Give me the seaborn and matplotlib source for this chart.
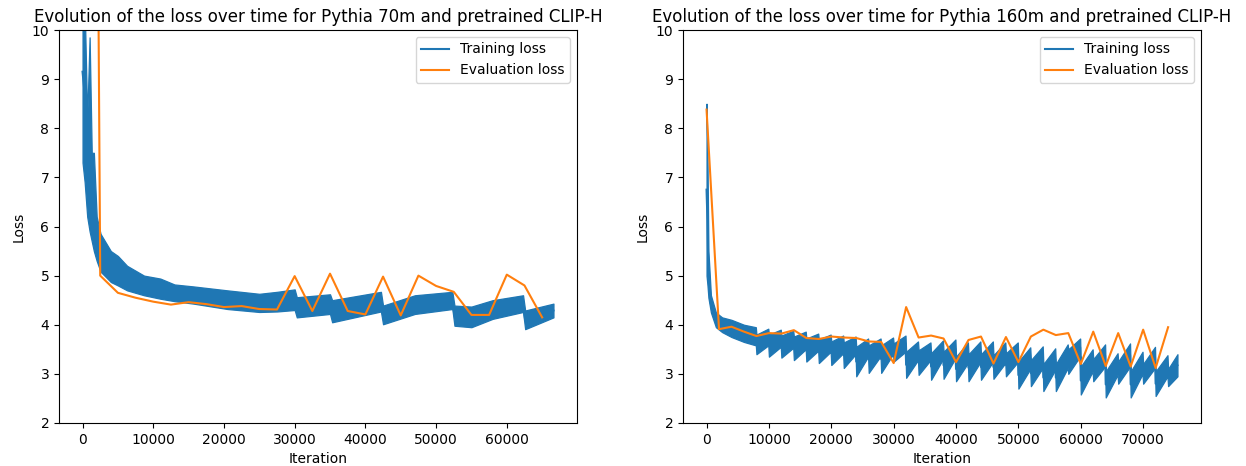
import matplotlib
matplotlib.use('Agg')
import matplotlib.pyplot as plt
import seaborn as sns
import numpy as np
import pandas as pd

# Pythia 70m - training loss band (lower / upper envelope)
train70_iter = [0, 300, 660, 1000, 1300, 1600, 2000, 2550, 4000, 5000, 6300, 8700,
                11000, 13000, 15700, 20500, 25000, 27500, 30000, 30300, 35000, 35300,
                42200, 42500, 47000, 52300, 52600, 55000, 58000, 62300, 62600, 66600]
train70_low = [7.3, 6.9, 6.2, 5.9, 5.7, 5.5, 5.3, 5.08, 4.87, 4.8, 4.7, 4.6,
               4.53, 4.48, 4.43, 4.32, 4.26, 4.27, 4.30, 4.15, 4.22, 4.05,
               4.27, 4.01, 4.22, 4.32, 3.98, 3.95, 4.12, 4.26, 3.91, 4.15]
train70_high = [11.0, 10.5, 8.2, 9.85, 7.5, 7.5, 6.2, 5.85, 5.5, 5.4, 5.2, 5.0,
                4.94, 4.82, 4.78, 4.70, 4.63, 4.67, 4.72, 4.56, 4.62, 4.50,
                4.67, 4.39, 4.60, 4.67, 4.39, 4.37, 4.50, 4.60, 4.29, 4.43]

# Pythia 70m - evaluation loss
eval70_iter = [0, 2500, 5000, 7500, 10000, 12500, 15000, 17500, 20000, 22500, 25000,
               27500, 30000, 32500, 35000, 37500, 40000, 42500, 45000, 47500, 50000,
               52500, 55000, 57500, 60000, 62500, 65000]
eval70_loss = [60.0, 5.0, 4.65, 4.55, 4.47, 4.41, 4.46, 4.42, 4.36, 4.38, 4.32,
               4.31, 4.99, 4.28, 5.04, 4.28, 4.21, 4.98, 4.19, 5.0, 4.79,
               4.67, 4.20, 4.20, 5.02, 4.80, 4.15]

# Pythia 160m - training loss, warm-up part
train160_iter = [0, 150, 300, 700, 1500, 2500, 4000, 6000, 7900]
train160_low = [5.0, 4.8, 4.55, 4.25, 3.95, 3.85, 3.75, 3.65, 3.58]
train160_high = [8.5, 7.4, 5.5, 4.6, 4.25, 4.15, 4.1, 4.0, 3.95]

# Pythia 160m - training loss, saw-tooth part (one tooth per 2000 iterations)
tooth_start = [8000, 10000, 12000, 14000, 16000, 18000, 20000, 22000, 24000, 26000,
               28000, 30000, 32000, 34000, 36000, 38000, 40000, 42000, 44000, 46000,
               48000, 50000, 52000, 54000, 56000, 58000, 60000, 62000, 64000, 66000,
               68000, 70000, 72000, 74000]
tooth_end = [9900, 11900, 13900, 15900, 17900, 19900, 21900, 23900, 25900, 27900,
             29900, 31900, 33900, 35900, 37900, 39900, 41900, 43900, 45900, 47900,
             49900, 51900, 53900, 55900, 57900, 59900, 61900, 63900, 65900, 67900,
             69900, 71900, 73900, 75500]
tooth_low_start = [3.40, 3.35, 3.33, 3.28, 3.25, 3.22, 3.18, 3.12, 2.95, 3.02,
                   3.02, 3.25, 2.92, 2.98, 2.88, 2.90, 2.85, 2.85, 2.88, 2.90,
                   2.95, 2.70, 2.75, 2.65, 2.65, 3.00, 2.58, 2.85, 2.52, 2.80,
                   2.52, 2.80, 2.55, 2.75]
tooth_high_start = [3.80, 3.80, 3.78, 3.76, 3.72, 3.70, 3.66, 3.64, 3.55, 3.58,
                    3.58, 3.62, 3.45, 3.48, 3.42, 3.45, 3.35, 3.40, 3.40, 3.38,
                    3.42, 3.25, 3.28, 3.20, 3.20, 3.50, 3.15, 3.30, 3.05, 3.25,
                    3.05, 3.20, 3.05, 3.10]
tooth_low_end = [3.58, 3.55, 3.53, 3.50, 3.47, 3.45, 3.42, 3.40, 3.35, 3.36,
                 3.40, 3.45, 3.28, 3.28, 3.30, 3.32, 3.22, 3.24, 3.24, 3.22,
                 3.24, 3.10, 3.12, 3.08, 3.12, 3.36, 3.05, 3.15, 2.98, 3.15,
                 3.00, 3.12, 2.95, 2.95]
tooth_high_end = [3.92, 3.90, 3.88, 3.86, 3.82, 3.80, 3.78, 3.76, 3.72, 3.72,
                  3.74, 3.78, 3.66, 3.64, 3.68, 3.70, 3.64, 3.66, 3.66, 3.64,
                  3.64, 3.54, 3.56, 3.52, 3.60, 3.72, 3.50, 3.60, 3.42, 3.62,
                  3.45, 3.55, 3.38, 3.40]

# Pythia 160m - evaluation loss
eval160_iter = list(range(0, 74001, 2000))
eval160_loss = [8.38, 3.91, 3.96, 3.86, 3.77, 3.83, 3.82, 3.89, 3.73, 3.71,
                3.76, 3.74, 3.73, 3.66, 3.65, 3.22, 4.36, 3.74, 3.78, 3.72,
                3.24, 3.69, 3.76, 3.21, 3.75, 3.24, 3.76, 3.90, 3.79, 3.83,
                3.20, 3.86, 3.16, 3.83, 3.15, 3.90, 3.12, 3.95]


def band_frame(iters, low, high):
    # two rows per iteration -> seaborn draws the min/max band
    return pd.DataFrame({'Iteration': list(iters) + list(iters),
                         'Loss': list(low) + list(high)})


def plot_loss(ax, train_df, eval_iter, eval_loss, title):
    sns.lineplot(data=train_df, x='Iteration', y='Loss', ax=ax, color='#1f77b4',
                 errorbar=('pi', 100), err_kws={'alpha': 1, 'linewidth': 0.9},
                 linewidth=1.5, label='Training loss')
    sns.lineplot(x=eval_iter, y=eval_loss, ax=ax, color='#ff7f0e',
                 linewidth=1.5, label='Evaluation loss')
    ax.set_ylim(2, 10)
    ax.set_xlabel('Iteration')
    ax.set_ylabel('Loss')
    ax.set_title(title, fontsize=12)
    ax.legend(loc='upper right')


# assemble the 160m training curve
iters160 = list(train160_iter)
low160 = list(train160_low)
high160 = list(train160_high)
for i in range(len(tooth_start)):
    iters160 += [tooth_start[i], tooth_end[i]]
    low160 += [tooth_low_start[i], tooth_low_end[i]]
    high160 += [tooth_high_start[i], tooth_high_end[i]]

fig = plt.figure(figsize=(12.46, 4.66), dpi=100)
ax1 = fig.add_axes([59 / 1246, 43 / 466, 518 / 1246, 393 / 466])
ax2 = fig.add_axes([683 / 1246, 43 / 466, 518 / 1246, 393 / 466])

plot_loss(ax1, band_frame(train70_iter, train70_low, train70_high), eval70_iter, eval70_loss,
          'Evolution of the loss over time for Pythia 70m and pretrained CLIP-H')
plot_loss(ax2, band_frame(iters160, low160, high160), eval160_iter, eval160_loss,
          'Evolution of the loss over time for Pythia 160m and pretrained CLIP-H')

fig.savefig('out.png', dpi=100)
